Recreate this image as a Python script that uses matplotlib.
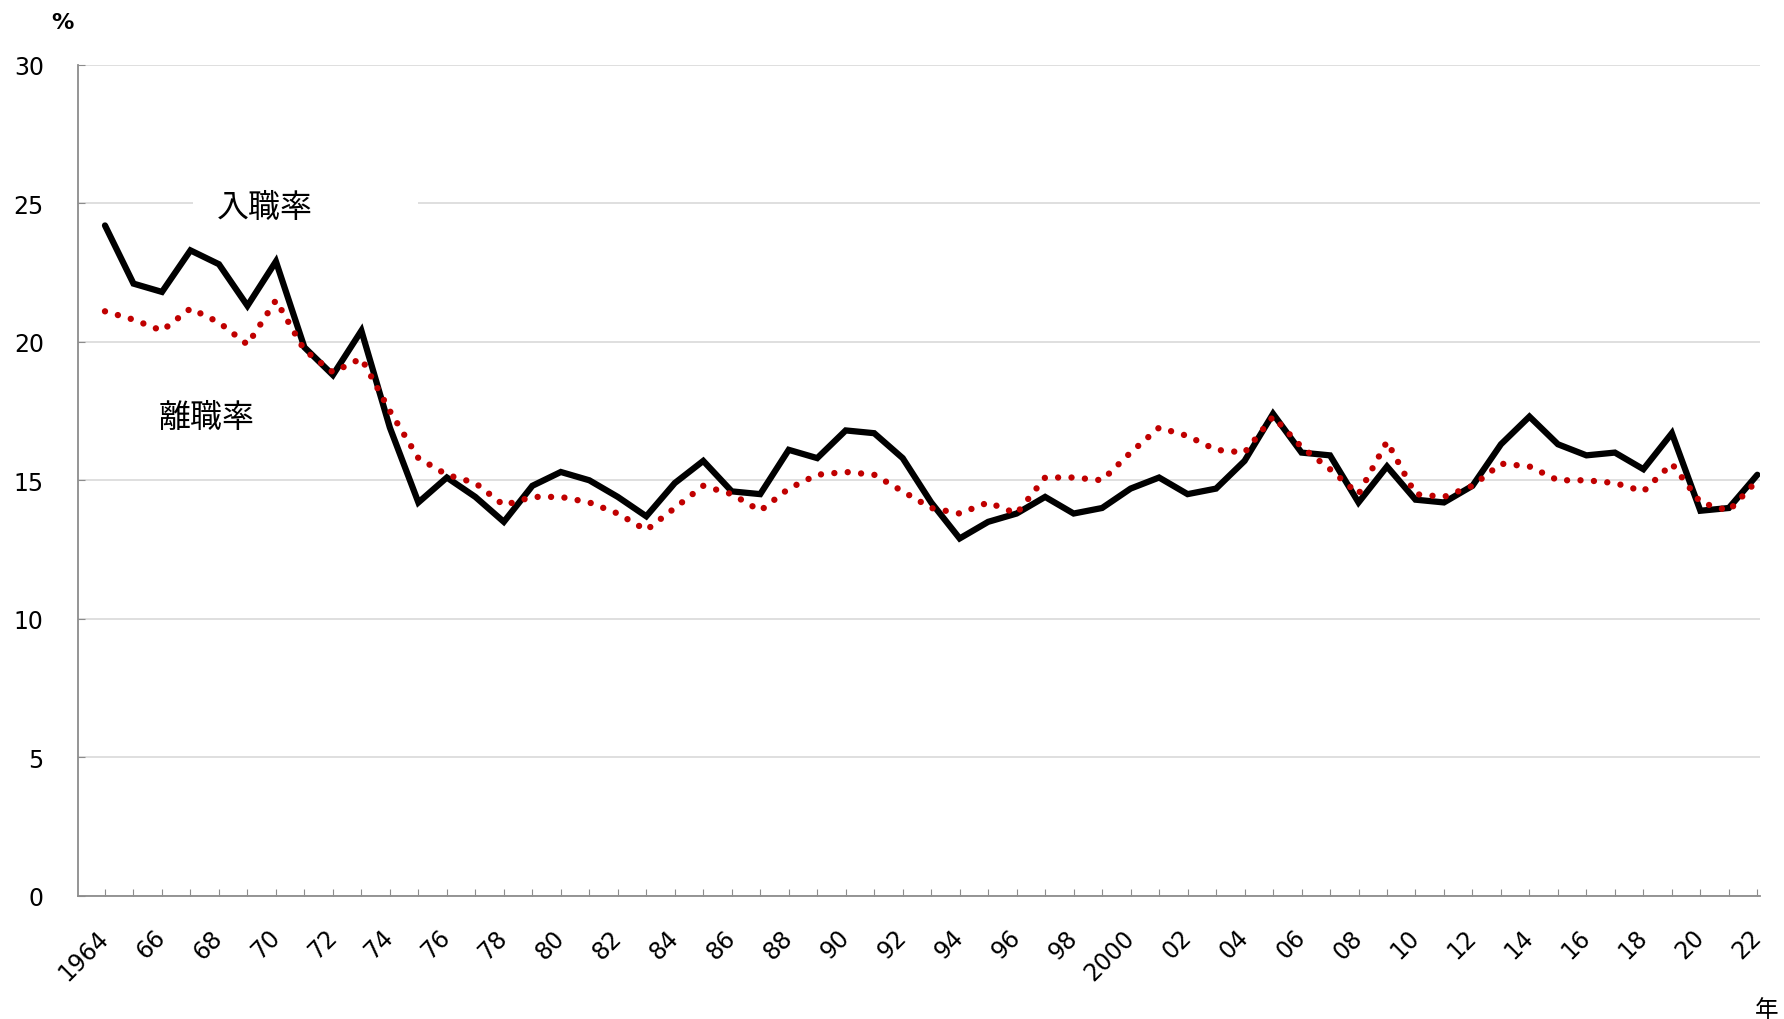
import matplotlib
matplotlib.use("Agg")
import matplotlib.pyplot as plt
from matplotlib.patches import Rectangle

plt.rcParams['font.family'] = ['DejaVu Sans', 'Noto Sans CJK JP']

years = list(range(1964, 2023))
hire_rate = [24.2, 22.1, 21.8, 23.3, 22.8, 21.3, 22.9, 19.8, 18.8, 20.4,
             16.9, 14.2, 15.1, 14.4, 13.5, 14.8, 15.3, 15.0, 14.4, 13.7,
             14.9, 15.7, 14.6, 14.5, 16.1, 15.8, 16.8, 16.7, 15.8, 14.2,
             12.9, 13.5, 13.8, 14.4, 13.8, 14.0, 14.7, 15.1, 14.5, 14.7,
             15.7, 17.4, 16.0, 15.9, 14.2, 15.5, 14.3, 14.2, 14.8, 16.3,
             17.3, 16.3, 15.9, 16.0, 15.4, 16.7, 13.9, 14.0, 15.2]
sep_rate = [21.1, 20.8, 20.4, 21.2, 20.7, 19.9, 21.5, 19.7, 18.9, 19.4,
            17.5, 15.8, 15.2, 14.9, 14.1, 14.4, 14.4, 14.2, 13.8, 13.2,
            14.0, 14.8, 14.5, 13.9, 14.7, 15.2, 15.3, 15.2, 14.6, 14.0,
            13.8, 14.2, 13.8, 15.1, 15.1, 15.0, 16.0, 16.9, 16.6, 16.1,
            16.0, 17.3, 16.2, 15.4, 14.5, 16.4, 14.5, 14.4, 14.8, 15.6,
            15.5, 15.0, 15.0, 14.9, 14.6, 15.6, 14.2, 13.9, 15.0]
tick_labels = ['1964' if y == 1964 else ('2000' if y == 2000 else f"{y % 100:02d}")
               if (y - 1964) % 2 == 0 else '' for y in years]
y_ticks = [0, 5, 10, 15, 20, 25, 30]

fig = plt.figure(figsize=(17.84, 10.2), dpi=100)
ax = fig.add_axes([0.0440, 0.1208, 0.9425, 0.8147])
ax.set_axisbelow(True)

ax.plot(years, hire_rate, color='black', lw=4.5, solid_joinstyle='miter',
        solid_capstyle='round', zorder=3)
ax.plot(years, sep_rate, color='#C00000', lw=4.6, linestyle=(0, (0.001, 2.1)),
        dash_capstyle='round', zorder=4)

ax.set_xlim(1963.07, 2022.09)
ax.set_ylim(0, 30)
ax.set_yticks(y_ticks)
ax.set_xticks(years)
ax.set_xticklabels(tick_labels, rotation=45, ha='right', va='center',
                   rotation_mode='anchor')
ax.grid(axis='y', color='#d9d9d9', lw=1.2)
ax.grid(axis='x', visible=False)

for s in ['top', 'right']:
    ax.spines[s].set_visible(False)
for s in ['left', 'bottom']:
    ax.spines[s].set_color('#8c8c8c')
    ax.spines[s].set_linewidth(1.3)

ax.tick_params(axis='y', direction='in', length=5, color='#8c8c8c',
               labelsize=17, pad=25)
ax.tick_params(axis='x', direction='in', length=5, color='#8c8c8c',
               labelsize=17, pad=27)

# white box interrupting gridline behind the label
ax.add_patch(Rectangle((1967.1, 24.55), 7.9, 0.9, fc='white', ec='none', zorder=1))
ax.text(1969.6, 24.87, '入職率', fontsize=23, ha='center', va='center',
        family=['Noto Sans CJK JP', 'DejaVu Sans'], zorder=2)
ax.text(1967.57, 17.29, '離職率', fontsize=23, ha='center', va='center',
        family=['Noto Sans CJK JP', 'DejaVu Sans'], zorder=2)

fig.text(0.0351, 0.9776, '%', fontsize=16, fontweight='bold', ha='center', va='center')
fig.text(0.9905, 0.0095, '年', fontsize=17, ha='center', va='center',
         family=['Noto Sans CJK JP', 'DejaVu Sans'])

fig.savefig('out.png', dpi=100, facecolor='white')
